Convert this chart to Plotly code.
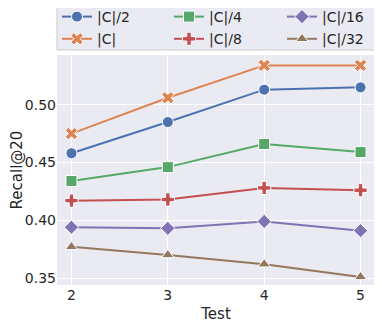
import plotly.graph_objects as go

tests = [2, 3, 4, 5]

recall_c2 = [0.458, 0.485, 0.513, 0.515]
recall_c = [0.475, 0.506, 0.534, 0.534]
recall_c4 = [0.434, 0.446, 0.466, 0.459]
recall_c8 = [0.417, 0.418, 0.428, 0.426]
recall_c16 = [0.394, 0.393, 0.399, 0.391]
recall_c32 = [0.377, 0.370, 0.362, 0.351]

y_ticks = [0.35, 0.40, 0.45, 0.50]
y_tick_labels = ['0.35', '0.40', '0.45', '0.50']

# name, values, color, marker, legend column
series = [
    ('|C|/2', recall_c2, '#4C72B0', 'circle', 'legend'),
    ('|C|', recall_c, '#DD8452', 'x', 'legend'),
    ('|C|/4', recall_c4, '#55A868', 'square', 'legend2'),
    ('|C|/8', recall_c8, '#C44E52', 'cross', 'legend2'),
    ('|C|/16', recall_c16, '#8172B3', 'diamond', 'legend3'),
    ('|C|/32', recall_c32, '#937860', 'triangle-up', 'legend3'),
]

fig = go.Figure()
for name, vals, color, symbol, leg in series:
    fig.add_trace(go.Scatter(
        x=tests, y=vals, name=name, mode='lines+markers',
        line=dict(color=color, width=2),
        marker=dict(symbol=symbol, size=11, color=color,
                    line=dict(color='white', width=1)),
        legend=leg, legendgroup=name,
    ))

# the page body adds an 8px offset, so the figure is 8px smaller
OFF = 8
# plot area in page px: x 57..375, y 55..285
W, H = 318, 230


def px_x(p):
    return (p - 57) / W


def px_y(p):
    return (285 - p) / H


leg_common = dict(
    orientation='v', xanchor='left', yanchor='top', y=px_y(1),
    bgcolor='rgba(0,0,0,0)', borderwidth=0,
    font=dict(size=14), tracegroupgap=1,
)

fig.update_layout(
    width=382 - OFF, height=326 - OFF,
    margin=dict(l=57 - OFF, r=7, t=55 - OFF, b=41, autoexpand=False),
    paper_bgcolor='white',
    plot_bgcolor='#EAEAF2',
    font=dict(family='DejaVu Sans', size=14, color='#262626'),
    legend=dict(x=px_x(57), **leg_common),
    legend2=dict(x=px_x(169), **leg_common),
    legend3=dict(x=px_x(282), **leg_common),
    shapes=[dict(
        type='rect', xref='paper', yref='paper',
        x0=px_x(57), x1=px_x(375), y0=px_y(50), y1=px_y(3),
        fillcolor='#EAEAF2', line=dict(color='#CCCCCC', width=1),
        layer='below',
    )],
    showlegend=True,
)
fig.update_xaxes(
    range=[1.85, 5.15], tickvals=tests, ticktext=[str(t) for t in tests],
    showgrid=True, gridcolor='white', gridwidth=1, zeroline=False,
    title=dict(text='Test', standoff=6, font=dict(size=15)),
    ticks='', showline=False, automargin=False,
)
fig.update_yaxes(
    range=[0.344, 0.543], tickvals=y_ticks, ticktext=y_tick_labels,
    showgrid=True, gridcolor='white', gridwidth=1, zeroline=False,
    title=dict(text='Recall@20', standoff=10, font=dict(size=15)),
    ticks='', showline=False, automargin=False,
)

fig.write_html("out.html")
